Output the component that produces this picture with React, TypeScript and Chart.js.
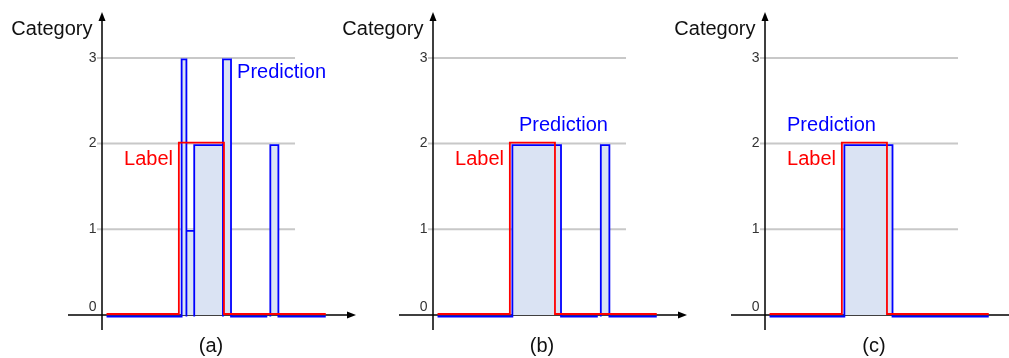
import React, { useEffect, useRef } from "react";
import { Chart, registerables } from "chart.js";

Chart.register(...registerables);

// ---------- data ----------
const yTickValues = [0, 1, 2, 3];
const yTickLabels = ["0", "1", "2", "3"];
const axisTitle = "Category";
const captions = ["(a)", "(b)", "(c)"];

// ground truth label segments (same in every panel)
const labelStarts = [0.9, 15.25, 24.2];
const labelEnds = [15.25, 24.2, 44.4];
const labelValues = [0, 2, 0];

// prediction segments, panel (a)
const predAStarts = [0.9, 15.8, 16.75, 18.3, 24.0, 25.6, 33.4, 35.0];
const predAEnds = [15.8, 16.75, 18.3, 24.0, 25.6, 32.8, 35.0, 44.4];
const predAValues = [0, 3, 1, 2, 3, 0, 2, 0];

// prediction segments, panel (b)
const predBStarts = [0.9, 15.75, 25.4, 33.3];
const predBEnds = [15.75, 25.4, 32.7, 35.0];
const predBValues = [0, 2, 0, 2];
const predBTailStarts = [35.0];
const predBTailEnds = [44.4];
const predBTailValues = [0];

// prediction segments, panel (c)
const predCStarts = [0.9, 15.75, 25.3];
const predCEnds = [15.75, 25.3, 44.4];
const predCValues = [0, 2, 0];

// ---------- layout / style ----------
const FONT = '"Liberation Sans", Arial, Helvetica, sans-serif';
const BLUE = "#0000ff";
const RED = "#ff0000";
const FILL = "#dae3f3";
const GRID = "#c8c8c8";

const X_MAX = 50.4;
const Y_MIN = -0.175;
const Y_MAX = 3.536;
const GRID_END = 38.3;

type Seg = { starts: number[]; ends: number[]; values: number[] };

function buildPath(segs: Seg[]) {
  const pts: { x: number; y: number | null }[] = [];
  let lastEnd: number | null = null;
  segs.forEach((s) => {
    for (let i = 0; i < s.starts.length; i++) {
      if (lastEnd !== null && s.starts[i] - lastEnd > 0.01) {
        pts.push({ x: (s.starts[i] + lastEnd) / 2, y: null });
      }
      pts.push(
        { x: s.starts[i], y: 0 },
        { x: s.starts[i], y: s.values[i] },
        { x: s.ends[i], y: s.values[i] },
        { x: s.ends[i], y: 0 }
      );
      lastEnd = s.ends[i];
    }
  });
  return pts;
}

type PanelCfg = {
  caption: string;
  pred: Seg[];
  predText: [number, number];
  labelText: [number, number];
  left: number;
};

const panels: PanelCfg[] = [
  {
    caption: captions[0],
    pred: [{ starts: predAStarts, ends: predAEnds, values: predAValues }],
    predText: [26.8, 2.77],
    labelText: [4.37, 1.75],
    left: 0,
  },
  {
    caption: captions[1],
    pred: [
      { starts: predBStarts, ends: predBEnds, values: predBValues },
      { starts: predBTailStarts, ends: predBTailEnds, values: predBTailValues },
    ],
    predText: [17.06, 2.15],
    labelText: [4.37, 1.75],
    left: 331,
  },
  {
    caption: captions[2],
    pred: [{ starts: predCStarts, ends: predCEnds, values: predCValues }],
    predText: [4.37, 2.15],
    labelText: [4.37, 1.75],
    left: 663,
  },
];

function makePlugin(p: PanelCfg) {
  return {
    id: "decor",
    beforeDatasetsDraw(chart: any) {
      const { ctx, chartArea, scales } = chart;
      const x = scales.x;
      const y = scales.y;
      const ax = x.getPixelForValue(0);
      const ay = y.getPixelForValue(0);
      ctx.save();
      // grid lines
      ctx.strokeStyle = GRID;
      ctx.lineWidth = 2;
      yTickValues.forEach((v) => {
        if (v === 0) return;
        const py = y.getPixelForValue(v);
        ctx.beginPath();
        ctx.moveTo(ax - 5, py);
        ctx.lineTo(x.getPixelForValue(GRID_END), py);
        ctx.stroke();
      });
      // axes
      ctx.strokeStyle = "#000";
      ctx.fillStyle = "#000";
      ctx.lineWidth = 1.5;
      ctx.beginPath();
      ctx.moveTo(ax, chartArea.bottom);
      ctx.lineTo(ax, chartArea.top + 6);
      ctx.moveTo(ax - 34, ay);
      ctx.lineTo(chartArea.right - 6, ay);
      ctx.stroke();
      // arrowheads
      ctx.beginPath();
      ctx.moveTo(ax, chartArea.top);
      ctx.lineTo(ax - 3.5, chartArea.top + 9);
      ctx.lineTo(ax + 3.5, chartArea.top + 9);
      ctx.closePath();
      ctx.fill();
      ctx.beginPath();
      ctx.moveTo(chartArea.right, ay);
      ctx.lineTo(chartArea.right - 9, ay - 3.5);
      ctx.lineTo(chartArea.right - 9, ay + 3.5);
      ctx.closePath();
      ctx.fill();
      // tick labels
      ctx.font = `14px ${FONT}`;
      ctx.fillStyle = "#333";
      ctx.textAlign = "right";
      ctx.textBaseline = "middle";
      yTickValues.forEach((v, i) => {
        const py = y.getPixelForValue(v) - (v === 0 ? 8 : 0);
        ctx.fillText(yTickLabels[i], ax - 5.5, py);
      });
      ctx.restore();
    },
    beforeDatasetDraw(chart: any, args: any) {
      const ctx = chart.ctx;
      ctx.save();
      const ds = chart.data.datasets[args.index];
      ctx.translate(0, ds.label === "Label" ? -1 : 1.5);
    },
    afterDatasetDraw(chart: any) {
      chart.ctx.restore();
    },
    afterDatasetsDraw(chart: any) {
      const { ctx, scales } = chart;
      const x = scales.x;
      const y = scales.y;
      const ax = x.getPixelForValue(0);
      ctx.save();
      ctx.textBaseline = "alphabetic";
      ctx.font = `20px ${FONT}`;
      ctx.textAlign = "right";
      ctx.fillStyle = "#111";
      ctx.fillText(axisTitle, ax - 9.5, 34.5);
      ctx.textAlign = "left";
      ctx.fillStyle = BLUE;
      ctx.fillText("Prediction", x.getPixelForValue(p.predText[0]), y.getPixelForValue(p.predText[1]));
      ctx.fillStyle = RED;
      ctx.fillText("Label", x.getPixelForValue(p.labelText[0]), y.getPixelForValue(p.labelText[1]));
      ctx.textAlign = "center";
      ctx.fillStyle = "#111";
      ctx.fillText(p.caption, ax + 109, 352);
      ctx.restore();
    },
  };
}

function PanelChart({ cfg }: { cfg: PanelCfg }) {
  const ref = useRef<HTMLCanvasElement | null>(null);
  useEffect(() => {
    if (!ref.current) return;
    const chart = new Chart(ref.current, {
      type: "line",
      data: {
        datasets: [
          {
            label: "Label",
            data: buildPath([{ starts: labelStarts, ends: labelEnds, values: labelValues }]) as any,
            borderColor: RED,
            borderWidth: 1.8,
            fill: false,
            pointRadius: 0,
            tension: 0,
            spanGaps: false,
            clip: false as any,
            order: 0,
          },
          {
            label: "Prediction",
            data: buildPath(cfg.pred) as any,
            borderColor: BLUE,
            backgroundColor: FILL,
            borderWidth: 1.8,
            fill: "origin",
            pointRadius: 0,
            tension: 0,
            spanGaps: false,
            clip: false as any,
            order: 1,
          },
        ],
      },
      options: {
        responsive: false,
        animation: false,
        devicePixelRatio: 1,
        layout: { padding: { left: 102, right: 4, top: 12, bottom: 28 } },
        plugins: { legend: { display: false }, tooltip: { enabled: false } },
        events: [],
        scales: {
          x: { type: "linear", min: 0, max: X_MAX, display: false },
          y: { type: "linear", min: Y_MIN, max: Y_MAX, display: false },
        },
      },
      plugins: [makePlugin(cfg)],
    });
    return () => chart.destroy();
  }, [cfg]);
  return (
    <canvas
      ref={ref}
      width={360}
      height={358}
      style={{ position: "absolute", left: cfg.left, top: 0, width: 360, height: 358 }}
    />
  );
}

export default function App() {
  return (
    <div
      style={{
        position: "absolute",
        left: 0,
        top: 0,
        width: 1009,
        height: 358,
        overflow: "hidden",
        background: "#fff",
      }}
    >
      {panels.map((p) => (
        <PanelChart key={p.caption} cfg={p} />
      ))}
    </div>
  );
}
